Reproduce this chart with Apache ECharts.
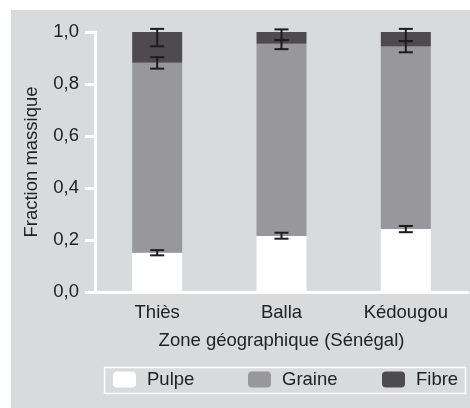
<!DOCTYPE html>
<html>
<head>
<meta charset="utf-8">
<script src="https://cdn.jsdelivr.net/npm/echarts@6/dist/echarts.min.js"></script>
<style>
html, body { margin: 0; padding: 0; background: #fff; }
#chart { position: absolute; left: 11px; top: 10px; width: 459px; height: 398px; background: #d9dadc; }
</style>
</head>
<body>
<div id="chart"></div>
<script>
var zones = ['Thiès', 'Balla', 'Kédougou'];
var pulpe = [0.151, 0.215, 0.242];
var graine = [0.731, 0.740, 0.702];
var fibre = [0.118, 0.045, 0.056];
// barres d'erreur : [zone, bas, haut]
var errPulpe = [[0, 0.141, 0.161], [1, 0.205, 0.228], [2, 0.230, 0.254]];
var errGraine = [[0, 0.859, 0.903], [1, 0.934, 0.969], [2, 0.922, 0.965]];
var errFibre = [[0, 0.945, 1.012], [1, 0.969, 1.010], [2, 0.965, 1.012]];
var yTicks = ['0,0', '0,2', '0,4', '0,6', '0,8', '1,0'];
var noms = ['Pulpe', 'Graine', 'Fibre'];
var couleurs = ['#ffffff', '#98979b', '#4e4b50'];

var chart = echarts.init(document.getElementById('chart'));

function renderErr(params, api) {
    var lo = api.coord([api.value(0), api.value(1)]);
    var hi = api.coord([api.value(0), api.value(2)]);
    var half = 7;
    var style = { stroke: '#1c1c1e', lineWidth: 2 };
    return {
        type: 'group',
        children: [
            { type: 'line', shape: { x1: lo[0], y1: lo[1], x2: hi[0], y2: hi[1] }, style: style },
            { type: 'line', shape: { x1: lo[0] - half, y1: lo[1], x2: lo[0] + half, y2: lo[1] }, style: style },
            { type: 'line', shape: { x1: hi[0] - half, y1: hi[1], x2: hi[0] + half, y2: hi[1] }, style: style }
        ]
    };
}

var textCol = '#222';
var fs = 18.5;
var legendLeft = [102, 237, 371];
var legends = [];
for (var i = 0; i < noms.length; i++) {
    legends.push({
        left: legendLeft[i], top: 360, padding: 0,
        itemWidth: 23, itemHeight: 16,
        textStyle: { fontSize: fs, color: textCol, padding: [0, 0, 0, 6] },
        data: [{ name: noms[i], itemStyle: { color: couleurs[i] } }]
    });
}

var option = {
    animation: false,
    textStyle: { fontFamily: 'Liberation Sans', color: textCol },
    grid: { left: 84, top: 22, width: 373, height: 260 },
    legend: legends,
    graphic: [{
        type: 'rect', left: 91, top: 355, silent: true,
        shape: { width: 361, height: 26 },
        style: { fill: 'none', stroke: '#fff', lineWidth: 1.5 }
    }],
    xAxis: {
        type: 'category',
        data: zones,
        name: 'Zone géographique (Sénégal)',
        nameLocation: 'middle',
        nameGap: 39,
        nameTextStyle: { fontSize: fs, color: textCol },
        axisLine: { lineStyle: { color: '#fff', width: 3 } },
        axisTick: { lineStyle: { color: '#fff', width: 3 }, length: 7 },
        axisLabel: { fontSize: fs, color: textCol, margin: 11 }
    },
    yAxis: {
        type: 'value',
        min: 0, max: 1, interval: 0.2,
        name: 'Fraction massique',
        nameLocation: 'middle',
        nameGap: 54,
        nameTextStyle: { fontSize: fs, color: textCol },
        splitLine: { show: false },
        axisLine: { show: true, lineStyle: { color: '#fff', width: 3 } },
        axisTick: { show: true, lineStyle: { color: '#fff', width: 3 }, length: 10 },
        axisLabel: {
            fontSize: fs, color: textCol, margin: 16,
            formatter: function (v) { return yTicks[Math.round(v / 0.2)]; }
        }
    },
    series: [
        { name: noms[0], type: 'bar', stack: 'm', barWidth: 50, data: pulpe, itemStyle: { color: couleurs[0] } },
        { name: noms[1], type: 'bar', stack: 'm', data: graine, itemStyle: { color: couleurs[1] } },
        { name: noms[2], type: 'bar', stack: 'm', data: fibre, itemStyle: { color: couleurs[2] } },
        { type: 'custom', renderItem: renderErr, data: errPulpe, z: 10 },
        { type: 'custom', renderItem: renderErr, data: errGraine, z: 10 },
        { type: 'custom', renderItem: renderErr, data: errFibre, z: 10 }
    ]
};
chart.setOption(option);
</script>
</body>
</html>
